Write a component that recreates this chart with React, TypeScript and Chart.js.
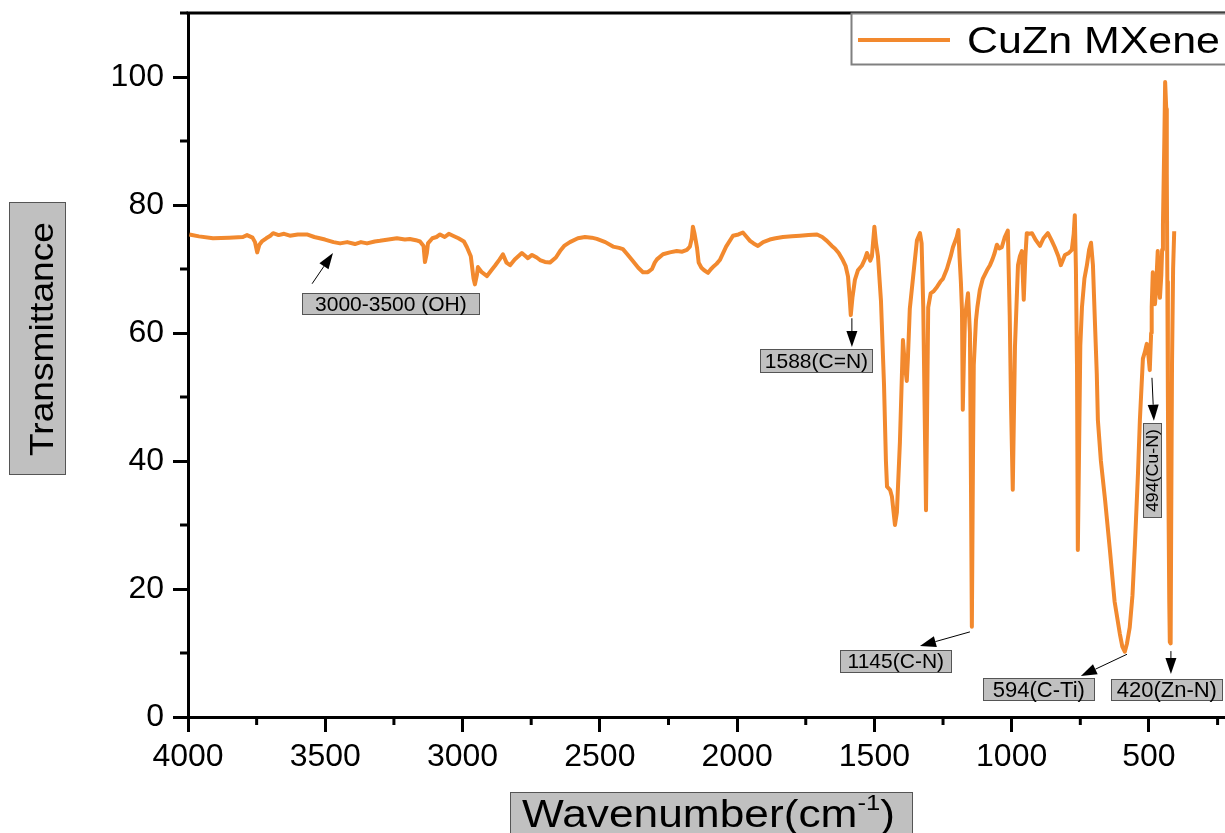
import React, { useEffect, useRef } from 'react';
import { Chart, registerables } from 'chart.js';

Chart.register(...registerables);

// ---------------- data ----------------
const seriesLabel = 'CuZn MXene';

const wavenumbers = [
  3995, 3960, 3909, 3850, 3800, 3785, 3765, 3756, 3748, 3740, 3731, 3715, 3700, 3690, 3670, 3650, 3629, 3600, 3567, 3540,
  3501, 3470, 3446, 3420, 3392, 3370, 3348, 3320, 3301, 3270, 3239, 3210, 3192, 3170, 3155, 3142, 3137, 3130, 3126, 3110,
  3095, 3082, 3065, 3050, 3035, 3015, 2995, 2984, 2970, 2960, 2955, 2948, 2944, 2930, 2911, 2895, 2882, 2865, 2853, 2840,
  2827, 2810, 2784, 2770, 2762, 2747, 2730, 2718, 2700, 2682, 2660, 2645, 2630, 2609, 2580, 2554, 2530, 2511, 2480, 2452,
  2430, 2416, 2400, 2379, 2360, 2343, 2325, 2310, 2300, 2292, 2270, 2245, 2220, 2200, 2183, 2172, 2165, 2161, 2155, 2146,
  2140, 2130, 2120, 2106, 2095, 2088, 2075, 2063, 2040, 2015, 1995, 1979, 1965, 1953, 1940, 1924, 1905, 1881, 1860, 1833,
  1800, 1771, 1740, 1709, 1690, 1673, 1655, 1644, 1630, 1615, 1605, 1596, 1590, 1586, 1580, 1571, 1560, 1546, 1535, 1527,
  1515, 1509, 1500, 1494, 1487, 1476, 1465, 1458, 1454, 1443, 1436, 1430, 1425, 1418, 1407, 1396, 1389, 1382, 1378, 1371,
  1356, 1345, 1334, 1328, 1322, 1316, 1312, 1308, 1304, 1295, 1285, 1272, 1260, 1250, 1236, 1222, 1214, 1200, 1194, 1190,
  1185, 1181, 1178, 1174, 1170, 1159, 1152, 1148, 1145, 1141, 1138, 1130, 1125, 1116, 1105, 1090, 1079, 1070, 1062, 1054,
  1045, 1036, 1025, 1014, 1007, 1002, 996, 988, 977, 970, 963, 956, 950, 945, 935, 926, 912, 897, 884, 868,
  855, 843, 830, 821, 806, 792, 781, 774, 770, 766, 762, 759, 755, 750, 744, 735, 726, 718, 711, 704,
  697, 690, 686, 675, 660, 642, 625, 606, 597, 588, 580, 570, 560, 551, 540, 533, 522, 515, 508, 502,
  497, 492, 490, 486, 482, 478, 474, 471, 468, 464, 460, 455, 452, 449, 444, 441, 437, 435, 433, 431,
  429, 426, 424, 421, 419, 416, 412, 408,
];

const transmittance = [
  75.4, 75.1, 74.8, 74.9, 75.0, 75.3, 74.9, 74.2, 72.6, 73.8, 74.3, 74.8, 75.2, 75.6, 75.3, 75.5, 75.2, 75.4, 75.4, 75.0,
  74.6, 74.2, 74.0, 74.2, 73.9, 74.2, 74.0, 74.3, 74.4, 74.6, 74.8, 74.6, 74.7, 74.5, 74.3, 73.6, 71.1, 72.5, 74.0, 74.8,
  75.0, 75.4, 75.0, 75.5, 75.2, 74.8, 74.3, 73.4, 72.0, 68.5, 67.6, 69.0, 70.3, 69.5, 68.9, 69.8, 70.5, 71.5, 72.3, 71.0,
  70.6, 71.5, 72.5, 72.0, 71.7, 72.2, 71.8, 71.4, 71.1, 71.0, 71.8, 72.8, 73.6, 74.2, 74.8, 75.0, 74.9, 74.7, 74.2, 73.5,
  73.3, 73.1, 72.3, 71.2, 70.2, 69.5, 69.5, 70.0, 71.0, 71.5, 72.3, 72.6, 72.8, 72.7, 73.0, 73.5, 74.8, 76.6, 75.5, 73.3,
  71.0, 70.2, 69.8, 69.4, 70.0, 70.3, 70.8, 71.4, 73.5, 75.2, 75.4, 75.7, 75.0, 74.4, 74.0, 73.6, 74.2, 74.6, 74.8, 75.0,
  75.1, 75.2, 75.3, 75.4, 75.0, 74.4, 73.6, 73.2, 72.5, 71.4, 70.5, 68.8, 65.5, 62.8, 65.5, 68.3, 69.8, 70.5, 71.5, 72.5,
  71.3, 72.0, 76.6, 74.0, 72.0, 65.0, 52.0, 40.0, 36.0, 35.5, 34.4, 32.0, 30.0, 32.0, 43.0, 58.9, 55.0, 52.5, 56.0, 63.8,
  70.0, 74.5, 75.6, 74.0, 64.0, 45.0, 32.3, 48.0, 64.0, 66.2, 66.5, 67.2, 68.0, 68.5, 70.0, 72.0, 73.4, 75.0, 76.1, 72.0,
  68.0, 63.6, 48.0, 56.0, 62.5, 66.2, 60.0, 35.0, 14.1, 40.0, 55.0, 62.0, 64.0, 66.7, 68.5, 69.8, 70.6, 71.5, 72.5, 73.8,
  73.2, 73.4, 75.0, 76.0, 62.5, 48.0, 35.5, 57.8, 70.6, 72.0, 72.8, 65.2, 72.0, 75.6, 75.5, 75.6, 74.5, 73.6, 74.8, 75.6,
  74.5, 73.4, 72.0, 70.6, 72.2, 72.5, 73.0, 75.5, 78.4, 70.0, 54.5, 26.1, 40.0, 58.0, 64.0, 68.5, 70.6, 73.0, 74.1, 70.6,
  62.0, 53.6, 46.4, 40.0, 34.0, 26.0, 18.0, 13.0, 11.0, 10.2, 11.5, 14.0, 19.0, 27.0, 38.0, 46.4, 56.0, 57.0, 58.3, 56.5,
  54.2, 60.0, 64.0, 69.5, 66.5, 64.5, 67.0, 70.0, 72.8, 67.5, 65.5, 69.0, 73.0, 77.0, 90.0, 99.2, 95.0, 85.0, 68.0, 50.0,
  35.0, 18.0, 11.7, 11.5, 30.0, 55.0, 70.0, 75.9,
];

const xTickValues = [4000, 3500, 3000, 2500, 2000, 1500, 1000, 500];
const xMinorValues = [3750, 3250, 2750, 2250, 1750, 1250, 750, 250];
const yTickValues = [0, 20, 40, 60, 80, 100];
const yMinorValues = [10, 30, 50, 70, 90, 110];

const xAxisTitle = 'Wavenumber(cm';
const xAxisTitleSup = '-1';
const xAxisTitleEnd = ')';
const yAxisTitle = 'Transmittance';

// annotations (in data units: wavenumber, transmittance)
const annotationLabels = ['3000-3500 (OH)', '1588(C=N)', '1145(C-N)', '594(C-Ti)', '420(Zn-N)', '494(Cu-N)'];
const annotationCenters = [[3261, 64.5], [1711, 55.6], [1422, 8.7], [901, 4.3], [435, 4.2], [488, 38.5]];
const arrowTails = [[3548, 67.7], [1582, 62.3], [1152, 13.3], [580, 9.8], [420, 10.3], [489, 53.0]];
const arrowHeads = [[3472, 72.5], [1582, 57.8], [1334, 11.1], [748, 6.4], [420, 6.7], [482, 46.3]];

// ---------------- styles ----------------
const FONT = '"Liberation Sans", Arial, Helvetica, sans-serif';
const lineColor = 'rgb(242,137,46)';
const boxFill = '#c0c0c0';
const boxStroke = '#555555';
const annotationBoxSizes = [[178, 22], [113, 24], [112, 23], [112, 23], [112, 22], [19, 95]];
const annotationFontSizes = [21, 21, 21, 22, 22, 16];

function drawArrow(ctx: CanvasRenderingContext2D, x1: number, y1: number, x2: number, y2: number) {
  const ang = Math.atan2(y2 - y1, x2 - x1);
  const headLen = 16;
  const headW = 5.5;
  const bx = x2 - headLen * Math.cos(ang);
  const by = y2 - headLen * Math.sin(ang);
  ctx.save();
  ctx.strokeStyle = '#000';
  ctx.fillStyle = '#000';
  ctx.lineWidth = 1;
  ctx.beginPath();
  ctx.moveTo(x1, y1);
  ctx.lineTo(bx, by);
  ctx.stroke();
  ctx.beginPath();
  ctx.moveTo(x2, y2);
  ctx.lineTo(bx + headW * Math.sin(ang), by - headW * Math.cos(ang));
  ctx.lineTo(bx - headW * Math.sin(ang), by + headW * Math.cos(ang));
  ctx.closePath();
  ctx.fill();
  ctx.restore();
}

function box(ctx: CanvasRenderingContext2D, x: number, y: number, w: number, h: number, fill: string, stroke: string, lw: number) {
  ctx.save();
  ctx.fillStyle = fill;
  ctx.fillRect(x, y, w, h);
  ctx.strokeStyle = stroke;
  ctx.lineWidth = lw;
  ctx.strokeRect(x + 0.5, y + 0.5, w - 1, h - 1);
  ctx.restore();
}

const decorPlugin = {
  id: 'decor',
  afterDraw(chart: any) {
    const ctx: CanvasRenderingContext2D = chart.ctx;
    const area = chart.chartArea;
    const xs = chart.scales.x;
    const ys = chart.scales.y;

    // top frame line
    ctx.save();
    ctx.strokeStyle = '#000';
    ctx.lineWidth = 3;
    ctx.beginPath();
    ctx.moveTo(area.left - 1.5, area.top);
    ctx.lineTo(area.right, area.top);
    ctx.stroke();

    // minor ticks
    ctx.lineWidth = 3;
    xMinorValues.forEach((v) => {
      const px = xs.getPixelForValue(v);
      if (px < area.left - 1 || px > area.right + 1) return;
      ctx.beginPath();
      ctx.moveTo(px, area.bottom);
      ctx.lineTo(px, area.bottom + 8);
      ctx.stroke();
    });
    yMinorValues.forEach((v) => {
      const py = ys.getPixelForValue(v);
      ctx.beginPath();
      ctx.moveTo(area.left, py);
      ctx.lineTo(area.left - 8, py);
      ctx.stroke();
    });
    ctx.restore();

    // annotations
    annotationLabels.forEach((label, i) => {
      const tx = xs.getPixelForValue(arrowTails[i][0]);
      const ty = ys.getPixelForValue(arrowTails[i][1]);
      const hx = xs.getPixelForValue(arrowHeads[i][0]);
      const hy = ys.getPixelForValue(arrowHeads[i][1]);
      drawArrow(ctx, tx, ty, hx, hy);
      const cx = xs.getPixelForValue(annotationCenters[i][0]);
      const cy = ys.getPixelForValue(annotationCenters[i][1]);
      const [w, h] = annotationBoxSizes[i];
      box(ctx, Math.round(cx - w / 2), Math.round(cy - h / 2), w, h, boxFill, boxStroke, 1);
      ctx.save();
      ctx.fillStyle = '#000';
      ctx.font = `${annotationFontSizes[i]}px ${FONT}`;
      ctx.textAlign = 'center';
      ctx.textBaseline = 'middle';
      if (w < h) {
        ctx.translate(cx + 1, cy);
        ctx.rotate(-Math.PI / 2);
        const mw = ctx.measureText(label).width;
        const target = h - 12;
        ctx.scale(Math.min(1.2, target / mw), 1);
        ctx.fillText(label, 0, 0);
      } else {
        ctx.fillText(label, cx, cy + 1);
      }
      ctx.restore();
    });

    // legend
    const ds = chart.data.datasets[0];
    box(ctx, 851, 13, 380, 52, '#ffffff', '#808080', 2);
    ctx.save();
    ctx.strokeStyle = ds.borderColor;
    ctx.lineWidth = 4;
    ctx.beginPath();
    ctx.moveTo(858, 40);
    ctx.lineTo(950, 40);
    ctx.stroke();
    ctx.fillStyle = '#000';
    ctx.font = `37px ${FONT}`;
    ctx.textBaseline = 'alphabetic';
    ctx.textAlign = 'left';
    const lw = ctx.measureText(ds.label).width;
    ctx.translate(967, 53);
    ctx.scale(253 / lw, 1);
    ctx.fillText(ds.label, 0, 0);
    ctx.restore();

    // y axis title
    box(ctx, 9, 202, 57, 273, boxFill, boxStroke, 1);
    ctx.save();
    ctx.fillStyle = '#000';
    ctx.font = `34px ${FONT}`;
    ctx.textAlign = 'center';
    ctx.textBaseline = 'alphabetic';
    const yw = ctx.measureText(yAxisTitle).width;
    ctx.translate(53, 339);
    ctx.rotate(-Math.PI / 2);
    ctx.scale(234 / yw, 1);
    ctx.fillText(yAxisTitle, 0, 0);
    ctx.restore();

    // x axis title
    box(ctx, 510, 792, 403, 50, boxFill, boxStroke, 1);
    ctx.save();
    ctx.fillStyle = '#000';
    ctx.textBaseline = 'alphabetic';
    ctx.textAlign = 'left';
    ctx.font = `38px ${FONT}`;
    const w1 = ctx.measureText(xAxisTitle).width;
    const w3 = ctx.measureText(xAxisTitleEnd).width;
    ctx.font = `22px ${FONT}`;
    const w2 = ctx.measureText(xAxisTitleSup).width;
    const total = w1 + w2 + w3;
    const sx = 373 / total;
    ctx.translate(522, 827);
    ctx.scale(sx, 1);
    ctx.font = `38px ${FONT}`;
    ctx.fillText(xAxisTitle, 0, 0);
    ctx.font = `22px ${FONT}`;
    ctx.fillText(xAxisTitleSup, w1, -17);
    ctx.font = `38px ${FONT}`;
    ctx.fillText(xAxisTitleEnd, w1 + w2, 0);
    ctx.restore();
  },
};

export default function App() {
  const canvasRef = useRef<HTMLCanvasElement | null>(null);

  useEffect(() => {
    const canvas = canvasRef.current;
    if (!canvas) return;
    const points = wavenumbers.map((w, i) => ({ x: w, y: transmittance[i] }));
    const chart = new Chart(canvas, {
      type: 'line',
      data: {
        datasets: [
          {
            label: seriesLabel,
            data: points,
            borderColor: lineColor,
            backgroundColor: lineColor,
            borderWidth: 4,
            pointRadius: 0,
            tension: 0,
            fill: false,
            borderJoinStyle: 'round',
          },
        ],
      },
      options: {
        animation: false,
        responsive: false,
        devicePixelRatio: 1,
        parsing: false,
        layout: { padding: { top: 13, right: 0, left: 0, bottom: 0 } },
        plugins: { legend: { display: false }, tooltip: { enabled: false } },
        scales: {
          x: {
            type: 'linear',
            reverse: true,
            min: 223,
            max: 4000,
            afterBuildTicks: (s: any) => {
              s.ticks = xTickValues.map((v) => ({ value: v }));
            },
            afterFit: (s: any) => {
              s.height = 116;
              s.paddingLeft = 0;
              s.paddingRight = 0;
            },
            grid: { display: true, drawOnChartArea: false, drawTicks: true, tickLength: 15, tickWidth: 3, tickColor: '#000' },
            border: { display: true, color: '#000', width: 3 },
            ticks: {
              color: '#000',
              font: { family: FONT, size: 32 },
              padding: 6,
              maxRotation: 0,
              autoSkip: false,
              callback: (v: any) => String(v),
            },
          },
          y: {
            type: 'linear',
            min: 0,
            max: 110,
            afterBuildTicks: (s: any) => {
              s.ticks = yTickValues.map((v) => ({ value: v }));
            },
            afterFit: (s: any) => {
              s.width = 188;
              s.paddingTop = 0;
              s.paddingBottom = 0;
            },
            grid: { display: true, drawOnChartArea: false, drawTicks: true, tickLength: 15, tickWidth: 3, tickColor: '#000' },
            border: { display: true, color: '#000', width: 3 },
            ticks: {
              color: '#000',
              font: { family: FONT, size: 32 },
              padding: 9,
              autoSkip: false,
              callback: (v: any) => String(v),
            },
          },
        },
      },
      plugins: [decorPlugin],
    } as any);
    return () => {
      chart.destroy();
    };
  }, []);

  return (
    <div style={{ position: 'fixed', left: 0, top: 0, width: 1225, height: 833, background: '#ffffff' }}>
      <canvas ref={canvasRef} width={1225} height={833} style={{ display: 'block' }} />
    </div>
  );
}
